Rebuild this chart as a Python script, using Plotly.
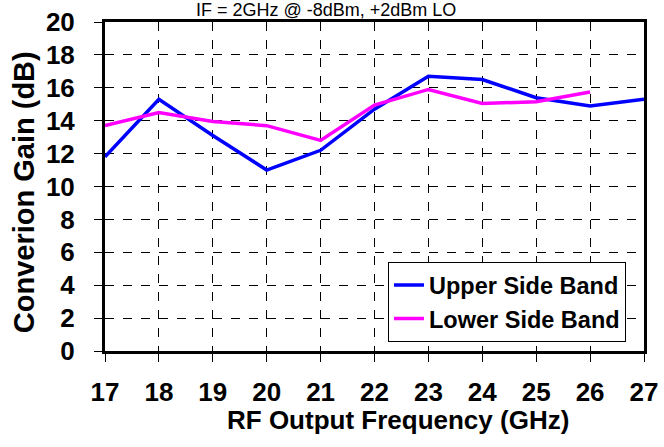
import plotly.graph_objects as go

freq = [17, 18, 19, 20, 21, 22, 23, 24, 25, 26, 27]
usb_gain = [11.8, 15.3, 13.1, 11.0, 12.2, 14.7, 16.7, 16.5, 15.4, 14.9, 15.3]
lsb_freq = [17, 18, 19, 20, 21, 22, 23, 24, 25, 26]
lsb_gain = [13.7, 14.5, 13.95, 13.7, 12.8, 14.95, 15.9, 15.05, 15.15, 15.75]

FONT = 'Liberation Sans, Arial, sans-serif'

fig = go.Figure()
fig.add_trace(go.Scatter(x=freq, y=usb_gain, mode='lines', name='Upper Side Band',
                         line=dict(color='#0000FF', width=3.5)))
fig.add_trace(go.Scatter(x=lsb_freq, y=lsb_gain, mode='lines', name='Lower Side Band',
                         line=dict(color='#FF00FF', width=3.5)))

fig.update_layout(
    width=664,
    height=447,
    paper_bgcolor='white',
    plot_bgcolor='white',
    font=dict(family=FONT, color='black'),
    margin=dict(l=105, r=20, t=22, b=96, autoexpand=False),
    showlegend=True,
    legend=dict(
        x=0.525, y=0.27, xanchor='left', yanchor='top',
        bgcolor='white', bordercolor='black', borderwidth=1,
        font=dict(size=23.5, family=FONT, weight='bold'),
        itemwidth=30, tracegroupgap=0,
    ),
    annotations=[
        # title, its top is cut off by the edge of the page
        dict(text='IF = 2GHz @ -8dBm, +2dBm LO', xref='paper', yref='paper',
             x=0.41, y=1.0, yanchor='bottom', xanchor='center', showarrow=False,
             font=dict(size=18, family=FONT), yshift=0),
        dict(text='<b>RF Output Frequency (GHz)</b>', xref='paper', yref='paper',
             x=0.543, y=-0.21, xanchor='center', yanchor='middle', showarrow=False,
             font=dict(size=26, family=FONT)),
        dict(text='<b>Converion Gain (dB)</b>', xref='paper', yref='paper',
             x=-0.150, y=0.483, xanchor='center', yanchor='middle', showarrow=False,
             textangle=-90, font=dict(size=29, family=FONT)),
    ],
)

fig.update_xaxes(
    range=[17, 27], tickmode='array', tickvals=freq,
    showline=True, linecolor='black', linewidth=3, mirror=True,
    showgrid=True, gridcolor='black', griddash='dash', gridwidth=1,
    ticks='outside', ticklen=8, tickcolor='black', tickwidth=1,
    ticklabelstandoff=8, automargin=False,
    tickfont=dict(size=26, family=FONT, weight='bold'),
    zeroline=False,
)
fig.update_yaxes(
    range=[0, 20], tickmode='array', tickvals=list(range(0, 21, 2)),
    showline=True, linecolor='black', linewidth=3, mirror=True,
    showgrid=True, gridcolor='black', griddash='dash', gridwidth=1,
    ticks='outside', ticklen=8, tickcolor='black', tickwidth=1,
    ticklabelstandoff=14, automargin=False,
    tickfont=dict(size=26, family=FONT, weight='bold'),
    zeroline=False,
)

# drop the browser's default 8px body margin so the figure sits at 0,0
fig.write_html('out.html', config={'displayModeBar': False},
               post_script="document.body.style.margin = '0';")
